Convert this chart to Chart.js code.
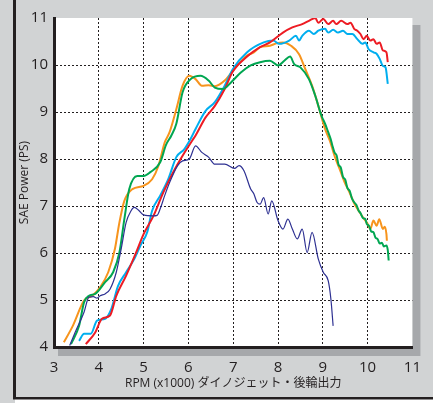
<!DOCTYPE html>
<html>
<head>
<meta charset="utf-8">
<script src="https://cdn.jsdelivr.net/npm/chart.js@4.4.1/dist/chart.umd.min.js"></script>
<style>
    html, body { margin: 0; padding: 0; background: #d1d3d4; }
    #wrap { width: 433px; height: 403px; }
</style>
</head>
<body>
<div id="wrap"><canvas id="grafica" width="433" height="403"></canvas></div>
<script>
"use strict";

/**
 * Datos (RPM x1000 / SAE PS)
 */
const xTicks = [3, 4, 5, 6, 7, 8, 9, 10, 11];
const yTicks = [4, 5, 6, 7, 8, 9, 10, 11];

const orangeRpm = [3.22, 3.42, 3.67, 3.85, 4.03, 4.21, 4.36, 4.46, 4.57, 4.75, 5.00, 5.19, 5.33, 5.47, 5.58, 5.73, 5.87, 6.02, 6.16, 6.30, 6.45, 6.59, 6.81, 7.09, 7.31, 7.46, 7.60, 7.82, 7.96, 8.11, 8.29, 8.47, 8.61, 8.76, 8.90, 9.05, 9.16, 9.26, 9.37, 9.48, 9.59, 9.70, 9.80, 9.91, 10.00, 10.06, 10.13, 10.20, 10.26, 10.34, 10.38, 10.42, 10.43];
const orangePs = [4.10, 4.45, 4.99, 5.09, 5.27, 5.59, 6.09, 6.65, 7.11, 7.36, 7.43, 7.57, 7.85, 8.35, 8.57, 9.06, 9.56, 9.77, 9.70, 9.56, 9.57, 9.55, 9.67, 9.99, 10.20, 10.27, 10.38, 10.41, 10.46, 10.48, 10.41, 10.23, 9.91, 9.56, 9.13, 8.64, 8.38, 8.07, 7.80, 7.52, 7.30, 7.06, 6.90, 6.74, 6.62, 6.51, 6.69, 6.58, 6.72, 6.51, 6.56, 6.40, 6.26];

const greenRpm = [3.38, 3.56, 3.67, 3.78, 3.92, 4.14, 4.32, 4.46, 4.57, 4.68, 4.86, 5.00, 5.15, 5.37, 5.50, 5.62, 5.73, 5.87, 6.05, 6.27, 6.45, 6.59, 6.77, 6.95, 7.17, 7.39, 7.60, 7.82, 8.00, 8.14, 8.27, 8.36, 8.50, 8.69, 8.83, 8.97, 9.05, 9.12, 9.17, 9.21, 9.26, 9.31, 9.35, 9.40, 9.45, 9.50, 9.55, 9.60, 9.65, 9.70, 9.75, 9.80, 9.84, 9.90, 9.95, 9.98, 10.03, 10.08, 10.13, 10.18, 10.22, 10.27, 10.32, 10.36, 10.42, 10.45, 10.47];
const greenPs = [4.06, 4.45, 4.95, 5.09, 5.13, 5.38, 5.59, 6.01, 6.72, 7.36, 7.64, 7.64, 7.72, 7.93, 8.30, 8.50, 8.75, 9.42, 9.70, 9.77, 9.67, 9.52, 9.49, 9.63, 9.84, 9.99, 10.06, 10.09, 9.99, 10.09, 10.18, 10.02, 9.95, 9.70, 9.35, 8.92, 8.75, 8.57, 8.44, 8.30, 8.14, 8.07, 7.88, 7.82, 7.62, 7.56, 7.38, 7.32, 7.16, 7.08, 7.02, 6.90, 6.85, 6.74, 6.72, 6.62, 6.58, 6.46, 6.44, 6.32, 6.30, 6.20, 6.22, 6.14, 6.16, 6.06, 5.84];

const redRpm = [3.71, 3.92, 4.07, 4.25, 4.39, 4.61, 4.82, 5.00, 5.22, 5.44, 5.66, 5.87, 6.09, 6.16, 6.38, 6.59, 6.81, 6.99, 7.31, 7.60, 7.82, 8.11, 8.32, 8.54, 8.69, 8.83, 8.90, 9.01, 9.12, 9.23, 9.30, 9.41, 9.55, 9.62, 9.70, 9.77, 9.84, 9.91, 9.98, 10.06, 10.13, 10.20, 10.27, 10.34, 10.42, 10.45];
const redPs = [4.06, 4.31, 4.60, 4.67, 5.09, 5.52, 5.98, 6.40, 6.79, 7.29, 7.72, 8.07, 8.40, 8.50, 8.88, 9.13, 9.49, 9.86, 10.18, 10.38, 10.48, 10.69, 10.80, 10.87, 10.94, 11.00, 10.90, 10.98, 10.87, 10.94, 10.87, 10.94, 10.87, 10.90, 10.77, 10.73, 10.66, 10.55, 10.62, 10.52, 10.55, 10.45, 10.48, 10.31, 10.27, 10.06];

const cyanRpm = [3.56, 3.67, 3.82, 3.96, 4.14, 4.28, 4.43, 4.61, 4.79, 4.93, 5.08, 5.19, 5.37, 5.55, 5.73, 5.91, 6.05, 6.16, 6.38, 6.59, 6.81, 6.99, 7.31, 7.68, 7.89, 8.03, 8.25, 8.40, 8.47, 8.54, 8.69, 8.80, 8.90, 9.05, 9.12, 9.23, 9.34, 9.45, 9.55, 9.66, 9.77, 9.88, 9.95, 10.02, 10.13, 10.20, 10.27, 10.34, 10.40, 10.45];
const cyanPs = [4.13, 4.28, 4.28, 4.56, 4.60, 4.81, 5.30, 5.59, 5.87, 6.16, 6.44, 6.90, 7.22, 7.57, 8.04, 8.21, 8.43, 8.64, 9.02, 9.21, 9.56, 9.91, 10.27, 10.48, 10.52, 10.45, 10.52, 10.62, 10.52, 10.62, 10.73, 10.66, 10.73, 10.77, 10.69, 10.75, 10.69, 10.73, 10.66, 10.66, 10.55, 10.45, 10.48, 10.34, 10.27, 10.24, 10.13, 9.98, 9.95, 9.60];

const navyRpm = [3.35, 3.49, 3.67, 3.78, 3.88, 3.96, 4.03, 4.14, 4.25, 4.39, 4.50, 4.61, 4.72, 4.79, 4.90, 5.00, 5.22, 5.30, 5.37, 5.47, 5.58, 5.76, 5.87, 6.02, 6.16, 6.30, 6.45, 6.59, 6.81, 7.03, 7.13, 7.24, 7.39, 7.46, 7.53, 7.60, 7.68, 7.78, 7.86, 8.00, 8.11, 8.22, 8.32, 8.43, 8.54, 8.65, 8.76, 8.90, 9.01, 9.12, 9.18, 9.23];
const navyPs = [4.03, 4.35, 4.74, 5.06, 5.07, 5.04, 5.09, 5.13, 5.23, 5.59, 6.09, 6.65, 6.90, 6.97, 6.90, 6.81, 6.79, 6.80, 6.94, 7.22, 7.50, 7.86, 7.96, 8.00, 8.28, 8.14, 8.04, 7.89, 7.89, 7.80, 7.86, 7.75, 7.36, 7.26, 7.08, 7.04, 7.18, 6.83, 7.11, 6.69, 6.51, 6.72, 6.51, 6.30, 6.51, 6.01, 6.44, 5.87, 5.59, 5.41, 5.02, 4.45];

const fuente = '"Open Sans", "Noto Sans CJK JP", sans-serif';
const tinta = "#231f20";

document.addEventListener("DOMContentLoaded", () => {
    const idchar = document.querySelector("#grafica");

    function puntos(rpm, ps) {
        return rpm.map((x, i) => ({ x: x, y: ps[i] }));
    }

    function serie(label, rpm, ps, color, ancho) {
        return {
            label: label,
            data: puntos(rpm, ps),
            borderColor: color,
            borderWidth: ancho,
            pointRadius: 0,
            fill: false,
            cubicInterpolationMode: "monotone",
        };
    }

    /**
     * Marco gris, sombra y fondo blanco del area de la grafica
     */
    const marco = {
        id: "marco",
        beforeDraw(chart) {
            const { ctx, chartArea } = chart;
            const { left, top, right, bottom } = chartArea;
            ctx.save();
            ctx.fillStyle = "#d1d3d4";
            ctx.fillRect(0, 0, chart.width, chart.height);
            ctx.fillStyle = "#ffffff";
            ctx.fillRect(15, 399, chart.width - 15, chart.height - 399);
            ctx.fillStyle = tinta;
            ctx.fillRect(13, 0, 3, 399);
            ctx.fillRect(13, 397, chart.width - 13, 2.5);
            ctx.fillStyle = "#a6a8ab";
            ctx.fillRect(left + 4, top + 7, right - left + 4, bottom - top + 2);
            ctx.fillStyle = "#ffffff";
            ctx.fillRect(left, top, right - left, bottom - top);
            ctx.restore();
        },
    };

    const gridColor = (valorMax) => (context) =>
        context.tick && context.tick.value === valorMax ? "rgba(0,0,0,0)" : tinta;

    /**
     * El primer dataset se dibuja encima
     */
    new Chart(idchar, {
        type: "line",
        data: {
            datasets: [
                serie("navy", navyRpm, navyPs, "#2e3192", 1.2),
                serie("green", greenRpm, greenPs, "#00a651", 2),
                serie("red", redRpm, redPs, "#ed1c24", 2),
                serie("cyan", cyanRpm, cyanPs, "#00aeef", 2),
                serie("orange", orangeRpm, orangePs, "#f7941d", 2),
            ],
        },
        options: {
            responsive: false,
            animation: false,
            devicePixelRatio: 1,
            layout: {
                padding: { left: 0, top: 18, right: 9, bottom: 0 },
            },
            plugins: {
                legend: { display: false },
                tooltip: { enabled: false },
            },
            scales: {
                x: {
                    type: "linear",
                    min: xTicks[0],
                    max: xTicks[xTicks.length - 1],
                    afterFit: (scale) => {
                        scale.height = 56;
                    },
                    afterBuildTicks: (scale) => {
                        scale.ticks = xTicks.map((v) => ({ value: v }));
                    },
                    ticks: {
                        padding: 12,
                        color: tinta,
                        font: { family: fuente, size: 15 },
                        maxRotation: 0,
                    },
                    grid: {
                        color: gridColor(11),
                        lineWidth: 1,
                        drawTicks: false,
                    },
                    border: { display: true, color: tinta, width: 3, dash: [2, 2] },
                    title: {
                        display: true,
                        text: "RPM (x1000) ダイノジェット・後輪出力",
                        color: tinta,
                        font: { family: fuente, size: 12 },
                        padding: { top: 0, bottom: 12 },
                    },
                },
                y: {
                    type: "linear",
                    min: yTicks[0],
                    max: yTicks[yTicks.length - 1],
                    afterFit: (scale) => {
                        scale.width = 54;
                    },
                    afterBuildTicks: (scale) => {
                        scale.ticks = yTicks.map((v) => ({ value: v }));
                    },
                    ticks: {
                        padding: 6,
                        color: tinta,
                        font: { family: fuente, size: 15 },
                    },
                    grid: {
                        color: gridColor(11),
                        lineWidth: 1,
                        drawTicks: false,
                    },
                    border: { display: true, color: tinta, width: 3, dash: [2, 2] },
                    title: {
                        display: true,
                        text: "SAE Power (PS)",
                        color: tinta,
                        font: { family: fuente, size: 12 },
                        padding: { top: 17, bottom: 0 },
                    },
                },
            },
        },
        plugins: [marco],
    });
});
</script>
</body>
</html>
